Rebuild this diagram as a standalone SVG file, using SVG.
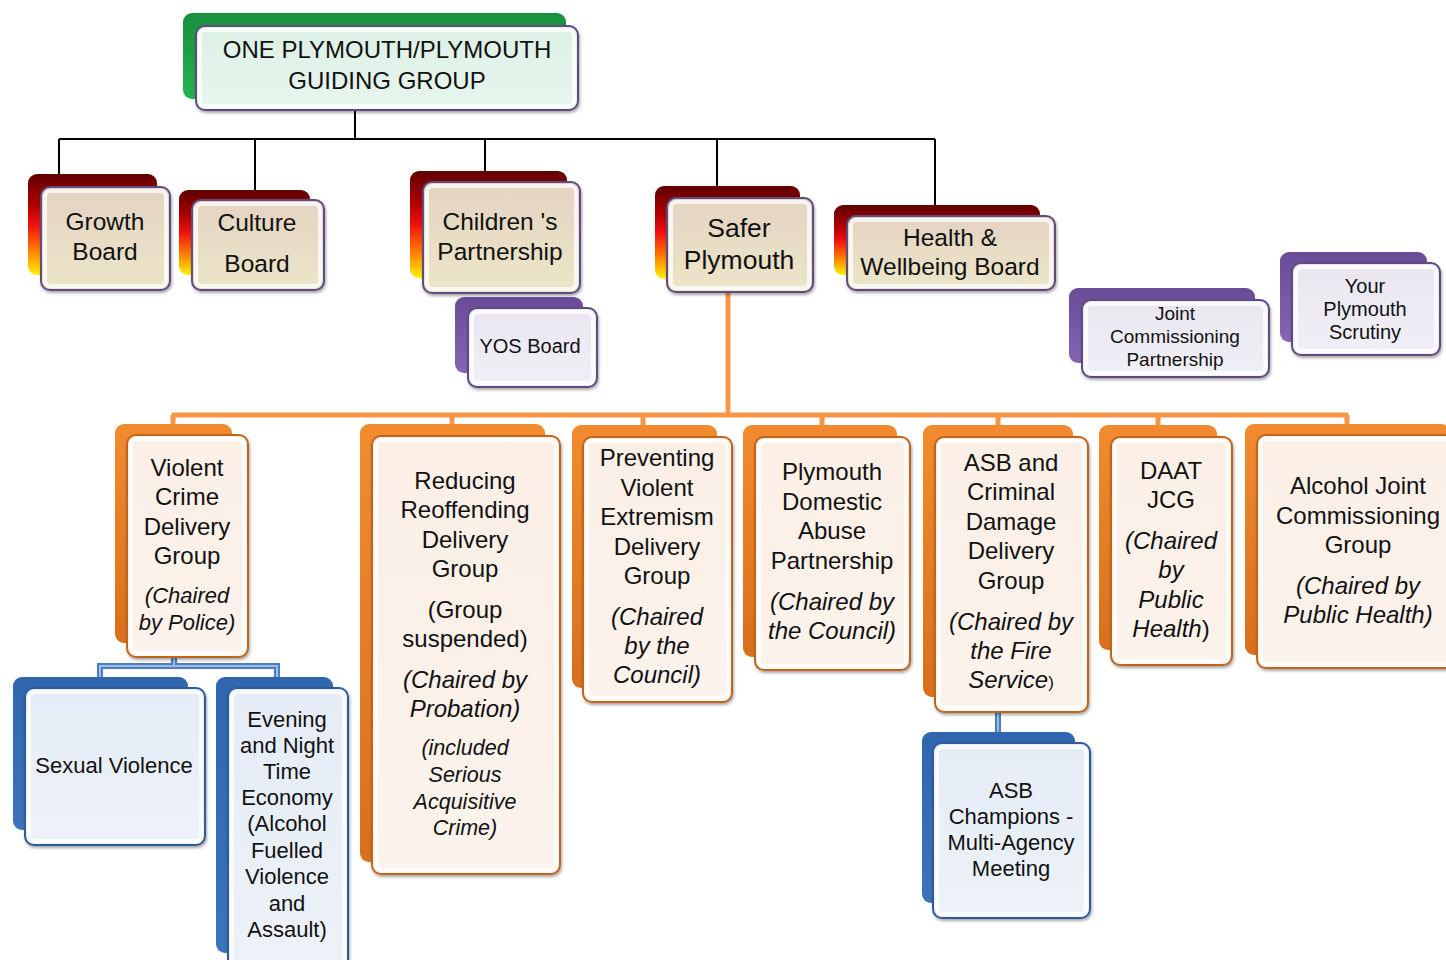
<svg xmlns="http://www.w3.org/2000/svg" width="1446" height="960" viewBox="0 0 1446 960">
<defs>
<linearGradient id="gGreen" x1="0" y1="0" x2="0" y2="1"><stop offset="0" stop-color="#17903F"/><stop offset="1" stop-color="#25B24F"/></linearGradient>
<linearGradient id="gRed" x1="0" y1="0" x2="0" y2="1"><stop offset="0" stop-color="#5E0000"/><stop offset="0.3" stop-color="#B00000"/><stop offset="0.5" stop-color="#F01010"/><stop offset="0.75" stop-color="#FF7A00"/><stop offset="1" stop-color="#FFF200"/></linearGradient>
<linearGradient id="gPurple" x1="0" y1="0" x2="0" y2="1"><stop offset="0" stop-color="#6A4B98"/><stop offset="1" stop-color="#8566B3"/></linearGradient>
<linearGradient id="gOrange" x1="0" y1="0" x2="0" y2="1"><stop offset="0" stop-color="#F28B30"/><stop offset="1" stop-color="#D96F1C"/></linearGradient>
<linearGradient id="gBlue" x1="0" y1="0" x2="0" y2="1"><stop offset="0" stop-color="#2F66AE"/><stop offset="1" stop-color="#3D73BA"/></linearGradient>
<linearGradient id="fGreen" x1="0" y1="0" x2="0" y2="1"><stop offset="0" stop-color="#DDF0E5"/><stop offset="1" stop-color="#E8F6EE"/></linearGradient>
<linearGradient id="fTan" x1="0" y1="0" x2="0" y2="1"><stop offset="0" stop-color="#E4D3C2"/><stop offset="1" stop-color="#ECE6C8"/></linearGradient>
<linearGradient id="fPurple" x1="0" y1="0" x2="0" y2="1"><stop offset="0" stop-color="#E9E6F0"/><stop offset="1" stop-color="#F1EFF6"/></linearGradient>
<linearGradient id="fOrange" x1="0" y1="0" x2="0" y2="1"><stop offset="0" stop-color="#FBEFE6"/><stop offset="1" stop-color="#FCF3EC"/></linearGradient>
<linearGradient id="fBlue" x1="0" y1="0" x2="0" y2="1"><stop offset="0" stop-color="#E5ECF6"/><stop offset="1" stop-color="#EDF2F9"/></linearGradient>
<filter id="sh" x="-10%" y="-10%" width="120%" height="120%"><feDropShadow dx="1" dy="2" stdDeviation="1.5" flood-color="#000" flood-opacity="0.35"/></filter>
</defs>
<style>
text{font-family:"Liberation Sans",Arial,sans-serif;fill:#111;text-anchor:middle}
.t24{font-size:24px}.t26{font-size:26.5px}.t22{font-size:24px}.tb{font-size:24.5px}.t21{font-size:22px}.t20{font-size:22px}.ts{font-size:21.5px}.t19{font-size:20px}.t18{font-size:20px}.t17{font-size:19px}.tyos{font-size:20px}
.it{font-style:italic}
.back{rx:9}
.front{rx:9;stroke-width:2;filter:url(#sh)}
.bevel{fill:none;stroke:#fff;stroke-opacity:0.75;stroke-width:4;rx:6}
.bk-green{fill:url(#gGreen)}.bk-red{fill:url(#gRed)}.bk-purple{fill:url(#gPurple)}.bk-orange{fill:url(#gOrange)}.bk-blue{fill:url(#gBlue)}
.fr-green{fill:url(#fGreen);stroke:#5F4B82}
.fr-tan{fill:url(#fTan);stroke:#5F4B82}
.fr-purple{fill:url(#fPurple);stroke:#5F4B82}
.fr-orange{fill:url(#fOrange);stroke:#C0651E}
.fr-blue{fill:url(#fBlue);stroke:#2E5C9A}
.cb{fill:none;stroke:#000;stroke-width:2}
.co{fill:none;stroke:#F79646;stroke-width:5}
.cbl{fill:none;stroke:#4A7EC0;stroke-width:6}
.cbli{fill:none;stroke:#9DBCE4;stroke-width:2}
</style>

<g id="connectors">
<path class="cb" d="M355 110V139M59 139H935M59 139V176M255 139V191M485 139V173M717 139V188M935 139V207"/>
<path class="co" d="M728 292V415M172 415H1348M173 415V425M452 415V425M643 415V426M822 415V426M998 415V426M1158 415V426M1347 415V425"/>
<path class="cbl" d="M174 657V666M100 678V666H277V678M998 712V734"/>
<path class="cbli" d="M174 657V666M100 678V666H277V678M998 712V734"/>
</g>

<g id="guiding-group">
<rect class="back bk-green" x="183" y="13" width="383" height="86"/>
<rect class="front fr-green" x="196" y="26" width="382" height="84"/>
<rect class="bevel" x="200" y="30" width="374" height="76"/>
<text class="t24" x="387" y="58">ONE PLYMOUTH/PLYMOUTH</text>
<text class="t24" x="387" y="89">GUIDING GROUP</text>
</g>

<g id="growth-board">
<rect class="back bk-red" x="28" y="174" width="129" height="101"/>
<rect class="front fr-tan" x="41" y="187" width="129" height="103"/>
<rect class="bevel" x="45" y="191" width="121" height="95"/>
<text class="tb" x="105" y="230">Growth</text>
<text class="tb" x="105" y="260">Board</text>
</g>

<g id="culture-board">
<rect class="back bk-red" x="179" y="190" width="131" height="85"/>
<rect class="front fr-tan" x="192" y="200" width="132" height="90"/>
<rect class="bevel" x="196" y="204" width="124" height="82"/>
<text class="tb" x="257" y="231">Culture</text>
<text class="tb" x="257" y="272">Board</text>
</g>

<g id="childrens-partnership">
<rect class="back bk-red" x="410" y="171" width="157" height="107"/>
<rect class="front fr-tan" x="423" y="182" width="157" height="111"/>
<rect class="bevel" x="427" y="186" width="149" height="103"/>
<text class="tb" x="500" y="230">Children 's</text>
<text class="tb" x="500" y="260">Partnership</text>
</g>

<g id="yos-board">
<rect class="back bk-purple" x="455" y="297" width="128" height="76"/>
<rect class="front fr-purple" x="468" y="308" width="129" height="79"/>
<rect class="bevel" x="472" y="312" width="121" height="71"/>
<text class="tyos" x="530" y="353">YOS Board</text>
</g>

<g id="safer-plymouth">
<rect class="back bk-red" x="655" y="186" width="145" height="93"/>
<rect class="front fr-tan" x="667" y="198" width="146" height="94"/>
<rect class="bevel" x="671" y="202" width="138" height="86"/>
<text class="t26" x="739" y="237">Safer</text>
<text class="t26" x="739" y="269">Plymouth</text>
</g>

<g id="health-wellbeing">
<rect class="back bk-red" x="834" y="205" width="206" height="70"/>
<rect class="front fr-tan" x="847" y="216" width="208" height="74"/>
<rect class="bevel" x="851" y="220" width="200" height="66"/>
<text class="tb" x="950" y="246">Health &amp;</text>
<text class="tb" x="950" y="275">Wellbeing Board</text>
</g>

<g id="joint-commissioning">
<rect class="back bk-purple" x="1069" y="288" width="186" height="75"/>
<rect class="front fr-purple" x="1082" y="300" width="187" height="77"/>
<rect class="bevel" x="1086" y="304" width="179" height="69"/>
<text class="t17" x="1175" y="320">Joint</text>
<text class="t17" x="1175" y="343">Commissioning</text>
<text class="t17" x="1175" y="366">Partnership</text>
</g>

<g id="your-plymouth-scrutiny">
<rect class="back bk-purple" x="1280" y="252" width="147" height="90"/>
<rect class="front fr-purple" x="1292" y="263" width="148" height="92"/>
<rect class="bevel" x="1296" y="267" width="140" height="84"/>
<text class="t18" x="1365" y="293">Your</text>
<text class="t18" x="1365" y="316">Plymouth</text>
<text class="t18" x="1365" y="339">Scrutiny</text>
</g>

<g id="violent-crime">
<rect class="back bk-orange" x="115" y="424" width="117" height="219"/>
<rect class="front fr-orange" x="127" y="435" width="121" height="222"/>
<rect class="bevel" x="131" y="439" width="113" height="214"/>
<text class="t22" x="187" y="476">Violent</text>
<text class="t22" x="187" y="505">Crime</text>
<text class="t22" x="187" y="535">Delivery</text>
<text class="t22" x="187" y="564">Group</text>
<text class="t21 it" x="187" y="603">(Chaired</text>
<text class="t21 it" x="187" y="630">by Police)</text>
</g>

<g id="reducing-reoffending">
<rect class="back bk-orange" x="360" y="424" width="185" height="438"/>
<rect class="front fr-orange" x="372" y="436" width="188" height="438"/>
<rect class="bevel" x="376" y="440" width="180" height="430"/>
<text class="t22" x="465" y="489">Reducing</text>
<text class="t22" x="465" y="518">Reoffending</text>
<text class="t22" x="465" y="548">Delivery</text>
<text class="t22" x="465" y="577">Group</text>
<text class="t22" x="465" y="618">(Group</text>
<text class="t22" x="465" y="647">suspended)</text>
<text class="t22 it" x="465" y="688">(Chaired by</text>
<text class="t22 it" x="465" y="717">Probation)</text>
<text class="ts it" x="465" y="755">(included</text>
<text class="ts it" x="465" y="782">Serious</text>
<text class="ts it" x="465" y="809">Acquisitive</text>
<text class="ts it" x="465" y="835">Crime)</text>
</g>

<g id="preventing-extremism">
<rect class="back bk-orange" x="572" y="425" width="145" height="263"/>
<rect class="front fr-orange" x="583" y="437" width="149" height="265"/>
<rect class="bevel" x="587" y="441" width="141" height="257"/>
<text class="t22" x="657" y="466">Preventing</text>
<text class="t22" x="657" y="496">Violent</text>
<text class="t22" x="657" y="525">Extremism</text>
<text class="t22" x="657" y="555">Delivery</text>
<text class="t22" x="657" y="584">Group</text>
<text class="t22 it" x="657" y="625">(Chaired</text>
<text class="t22 it" x="657" y="654">by the</text>
<text class="t22 it" x="657" y="683">Council)</text>
</g>

<g id="domestic-abuse">
<rect class="back bk-orange" x="743" y="425" width="154" height="232"/>
<rect class="front fr-orange" x="755" y="437" width="155" height="233"/>
<rect class="bevel" x="759" y="441" width="147" height="225"/>
<text class="t22" x="832" y="480">Plymouth</text>
<text class="t22" x="832" y="510">Domestic</text>
<text class="t22" x="832" y="539">Abuse</text>
<text class="t22" x="832" y="569">Partnership</text>
<text class="t22 it" x="832" y="610">(Chaired by</text>
<text class="t22 it" x="832" y="639">the Council)</text>
</g>

<g id="asb-criminal-damage">
<rect class="back bk-orange" x="923" y="425" width="150" height="272"/>
<rect class="front fr-orange" x="935" y="437" width="153" height="275"/>
<rect class="bevel" x="939" y="441" width="145" height="267"/>
<text class="t22" x="1011" y="471">ASB and</text>
<text class="t22" x="1011" y="500">Criminal</text>
<text class="t22" x="1011" y="530">Damage</text>
<text class="t22" x="1011" y="559">Delivery</text>
<text class="t22" x="1011" y="589">Group</text>
<text class="t22 it" x="1011" y="630">(Chaired by</text>
<text class="t22 it" x="1011" y="659">the Fire</text>
<text class="t22" x="1011" y="688"><tspan class="it">Service</tspan><tspan style="font-size:17px">)</tspan></text>
</g>

<g id="daat-jcg">
<rect class="back bk-orange" x="1099" y="425" width="118" height="225"/>
<rect class="front fr-orange" x="1111" y="437" width="121" height="228"/>
<rect class="bevel" x="1115" y="441" width="113" height="220"/>
<text class="t22" x="1171" y="479">DAAT</text>
<text class="t22" x="1171" y="508">JCG</text>
<text class="t22 it" x="1171" y="549">(Chaired</text>
<text class="t22 it" x="1171" y="578">by</text>
<text class="t22 it" x="1171" y="608">Public</text>
<text class="t22" x="1171" y="637"><tspan class="it">Health</tspan>)</text>
</g>

<g id="alcohol-joint-commissioning">
<rect class="back bk-orange" x="1245" y="424" width="205" height="231"/>
<rect class="front fr-orange" x="1257" y="435" width="200" height="233"/>
<rect class="bevel" x="1261" y="439" width="192" height="225"/>
<text class="t22" x="1358" y="494">Alcohol Joint</text>
<text class="t22" x="1358" y="524">Commissioning</text>
<text class="t22" x="1358" y="553">Group</text>
<text class="t22 it" x="1358" y="594">(Chaired by</text>
<text class="t22 it" x="1358" y="623">Public Health)</text>
</g>

<g id="sexual-violence">
<rect class="back bk-blue" x="13" y="677" width="175" height="153"/>
<rect class="front fr-blue" x="25" y="688" width="180" height="157"/>
<rect class="bevel" x="29" y="692" width="172" height="149"/>
<text class="t20" x="114" y="773">Sexual Violence</text>
</g>

<g id="evening-night-economy">
<rect class="back bk-blue" x="216" y="677" width="117" height="276"/>
<rect class="front fr-blue" x="228" y="688" width="120" height="285"/>
<rect class="bevel" x="232" y="692" width="112" height="277"/>
<text class="t20" x="287" y="727">Evening</text>
<text class="t20" x="287" y="753">and Night</text>
<text class="t20" x="287" y="779">Time</text>
<text class="t20" x="287" y="805">Economy</text>
<text class="t20" x="287" y="831">(Alcohol</text>
<text class="t20" x="287" y="858">Fuelled</text>
<text class="t20" x="287" y="884">Violence</text>
<text class="t20" x="287" y="911">and</text>
<text class="t20" x="287" y="937">Assault)</text>
</g>

<g id="asb-champions">
<rect class="back bk-blue" x="922" y="732" width="153" height="171"/>
<rect class="front fr-blue" x="933" y="743" width="157" height="175"/>
<rect class="bevel" x="937" y="747" width="149" height="167"/>
<text class="t20" x="1011" y="798">ASB</text>
<text class="t20" x="1011" y="824">Champions -</text>
<text class="t20" x="1011" y="850">Multi-Agency</text>
<text class="t20" x="1011" y="876">Meeting</text>
</g>
</svg>
